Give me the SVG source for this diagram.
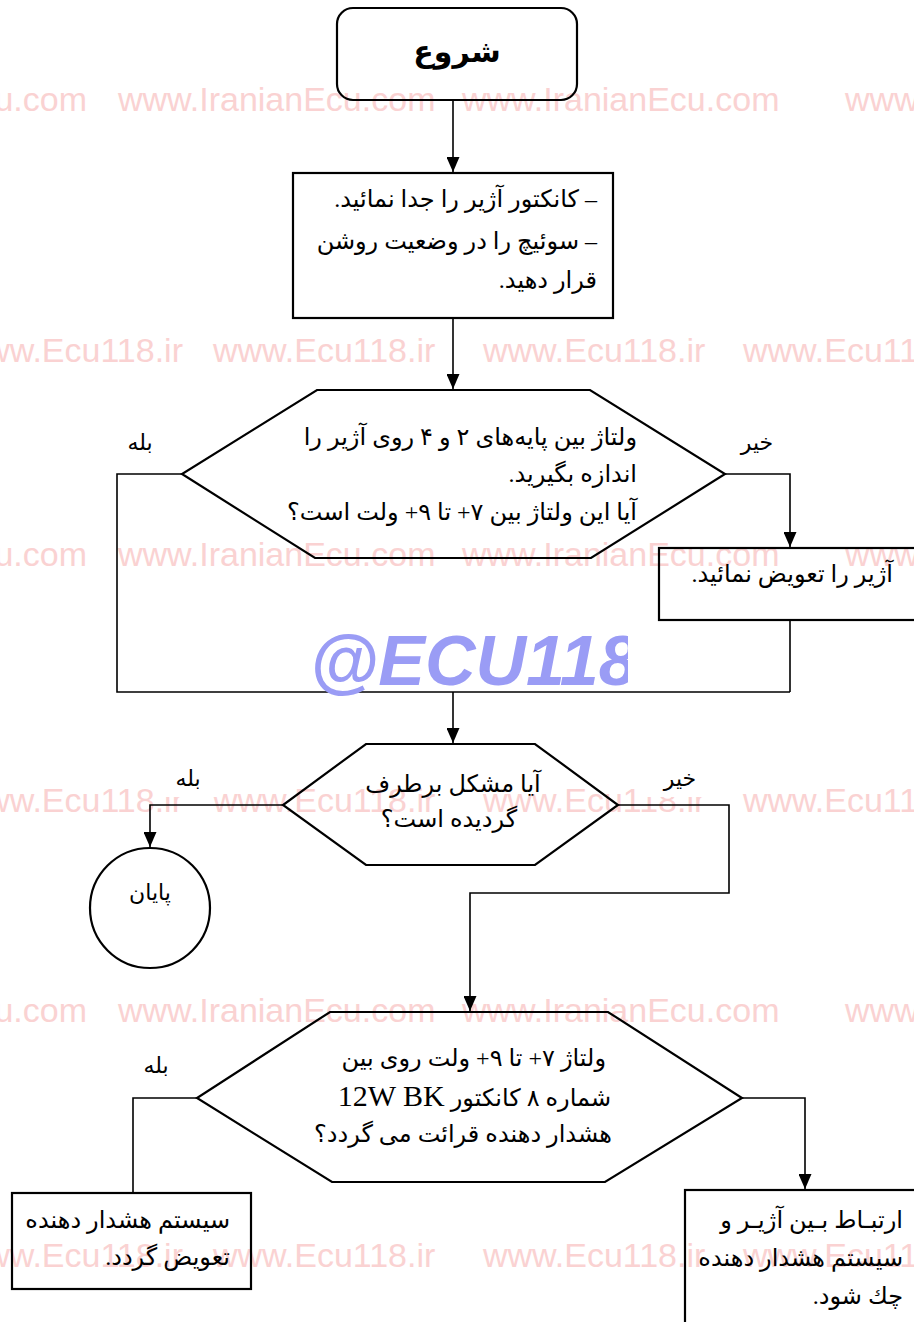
<svg xmlns="http://www.w3.org/2000/svg" width="914" height="1322" viewBox="0 0 914 1322">
<defs>
<style>
.shape{fill:none;stroke:#000;stroke-width:2.2}
.conn{fill:none;stroke:#000;stroke-width:1.6}
.t{font-family:"Liberation Serif","DejaVu Sans",serif;font-size:24px;fill:#000}
.lb{font-size:22px}
.r{direction:rtl;text-anchor:start}
.c{text-anchor:middle}
.bg{fill:#fff}
.wm{font-family:"Liberation Sans",Arial,sans-serif;font-size:34px;fill:#fad2d2}
.big{font-family:"Liberation Sans",Arial,sans-serif;font-size:70px;font-weight:bold;font-style:italic;fill:#9a9cf5}
</style>
<marker id="ah" markerUnits="userSpaceOnUse" markerWidth="15" markerHeight="13" refX="15" refY="6.5" orient="auto">
<path d="M0,0 L15,6.5 L0,13 z" fill="#000"/>
</marker>
<clipPath id="clipBig"><rect x="0" y="600" width="628" height="100"/></clipPath>
</defs>
<rect width="914" height="1322" fill="#fff"/>

<g id="watermarks">
<text class="wm" x="87" y="111" text-anchor="end">www.IranianEcu.com</text>
<text class="wm" x="118" y="111">www.IranianEcu.com</text>
<text class="wm" x="462" y="111">www.IranianEcu.com</text>
<text class="wm" x="845" y="111">www.IranianEcu.com</text>
<text class="wm" x="87" y="566" text-anchor="end">www.IranianEcu.com</text>
<text class="wm" x="118" y="566">www.IranianEcu.com</text>
<text class="wm" x="462" y="566">www.IranianEcu.com</text>
<text class="wm" x="845" y="566">www.IranianEcu.com</text>
<text class="wm" x="87" y="1022" text-anchor="end">www.IranianEcu.com</text>
<text class="wm" x="118" y="1022">www.IranianEcu.com</text>
<text class="wm" x="462" y="1022">www.IranianEcu.com</text>
<text class="wm" x="845" y="1022">www.IranianEcu.com</text>
<text class="wm" x="183" y="362" text-anchor="end">www.Ecu118.ir</text>
<text class="wm" x="213" y="362">www.Ecu118.ir</text>
<text class="wm" x="483" y="362">www.Ecu118.ir</text>
<text class="wm" x="743" y="362">www.Ecu118.ir</text>
<text class="wm" x="183" y="812" text-anchor="end">www.Ecu118.ir</text>
<text class="wm" x="213" y="812">www.Ecu118.ir</text>
<text class="wm" x="483" y="812">www.Ecu118.ir</text>
<text class="wm" x="743" y="812">www.Ecu118.ir</text>
<text class="wm" x="183" y="1267" text-anchor="end">www.Ecu118.ir</text>
<text class="wm" x="213" y="1267">www.Ecu118.ir</text>
<text class="wm" x="483" y="1267">www.Ecu118.ir</text>
<text class="wm" x="743" y="1267">www.Ecu118.ir</text>
</g>

<g id="label-backgrounds">
<rect class="bg" x="107" y="415" width="65" height="48"/>
<rect class="bg" x="715" y="415" width="80" height="47"/>
<rect class="bg" x="160" y="752" width="60" height="45"/>
<rect class="bg" x="636" y="752" width="78" height="45"/>
<rect class="bg" x="124" y="1040" width="64" height="48"/>
</g>

<g id="connectors">
<path class="conn" d="M453,100 V172" marker-end="url(#ah)"/>
<path class="conn" d="M453,318 V389" marker-end="url(#ah)"/>
<path class="conn" d="M182,474 H117 V692 H790"/>
<path class="conn" d="M725,474 H790 V547" marker-end="url(#ah)"/>
<path class="conn" d="M790,620 V692"/>
<path class="conn" d="M453,692 V743" marker-end="url(#ah)"/>
<path class="conn" d="M283,805 H150 V847" marker-end="url(#ah)"/>
<path class="conn" d="M618,805 H729 V893 H470 V1011" marker-end="url(#ah)"/>
<path class="conn" d="M197,1098 H133 V1192"/>
<path class="conn" d="M742,1098 H805 V1189" marker-end="url(#ah)"/>
</g>

<g id="start">
<rect class="shape" x="337" y="8" width="240" height="92" rx="16"/>
<text class="t c" x="457" y="62" style="font-size:30px;font-weight:bold">شروع</text>
</g>

<g id="step1">
<rect class="shape" x="293" y="173" width="320" height="145"/>
<text class="t r" x="597" y="207">– کانکتور آژیر را جدا نمائید.</text>
<text class="t r" x="597" y="249">– سوئیچ را در وضعیت روشن</text>
<text class="t r" x="597" y="288">قرار دهید.</text>
</g>

<g id="decision1">
<polygon class="shape" points="317,390 590,390 725,474 591,558 315,558 182,474"/>
<text class="t r" x="637" y="445">ولتاژ بین پایه‌های ۲ و ۴ روی آژیر را</text>
<text class="t r" x="637" y="482">اندازه بگیرید.</text>
<text class="t r" x="637" y="520">آیا این ولتاژ بین ۷+ تا ۹+ ولت است؟</text>
</g>

<g id="label-d1-yes">
<text class="t lb c" x="140" y="450">بله</text>
</g>
<g id="label-d1-no">
<text class="t lb c" x="757" y="450">خیر</text>
</g>

<g id="replace">
<rect class="shape" x="659" y="548" width="280" height="72"/>
<text class="t r" x="893" y="582">آژیر را تعویض نمائید.</text>
</g>

<g id="watermark-logo">
<text class="big" x="310" y="685" clip-path="url(#clipBig)">@ECU118</text>
</g>

<g id="decision2">
<polygon class="shape" points="366,744 535,744 618,805 535,865 366,865 283,805"/>
<text class="t c" x="453" y="792">آیا مشکل برطرف</text>
<text class="t c" x="449" y="827">گردیده است؟</text>
</g>

<g id="label-d2-yes">
<text class="t lb c" x="188" y="786">بله</text>
</g>
<g id="label-d2-no">
<text class="t lb c" x="680" y="786">خیر</text>
</g>

<g id="end">
<ellipse class="shape" cx="150" cy="908" rx="60" ry="60"/>
<text class="t lb c" x="150" y="900">پایان</text>
</g>

<g id="decision3">
<polygon class="shape" points="330,1012 608,1012 742,1098 605,1182 332,1182 197,1098"/>
<text class="t r" x="606" y="1066">ولتاژ ۷+ تا ۹+ ولت روی بین</text>
<text class="t r" x="611" y="1106">شماره ۸ کانکتور <tspan style="font-size:30px">12W BK</tspan></text>
<text class="t r" x="612" y="1142">هشدار دهنده قرائت می گردد؟</text>
</g>

<g id="label-d3-yes">
<text class="t lb c" x="156" y="1073">بله</text>
</g>

<g id="replace-alarm">
<rect class="shape" x="12" y="1193" width="239" height="96"/>
<text class="t r" x="230" y="1228">سیستم هشدار دهنده</text>
<text class="t r" x="230" y="1265">تعویض گردد.</text>
</g>

<g id="check-link">
<rect class="shape" x="685" y="1190" width="260" height="150"/>
<text class="t r" x="903" y="1228">ارتبـاط بـین آژیـر و</text>
<text class="t r" x="903" y="1266">سیستم هشدار دهنده</text>
<text class="t r" x="903" y="1304">چك شود.</text>
</g>
</svg>
